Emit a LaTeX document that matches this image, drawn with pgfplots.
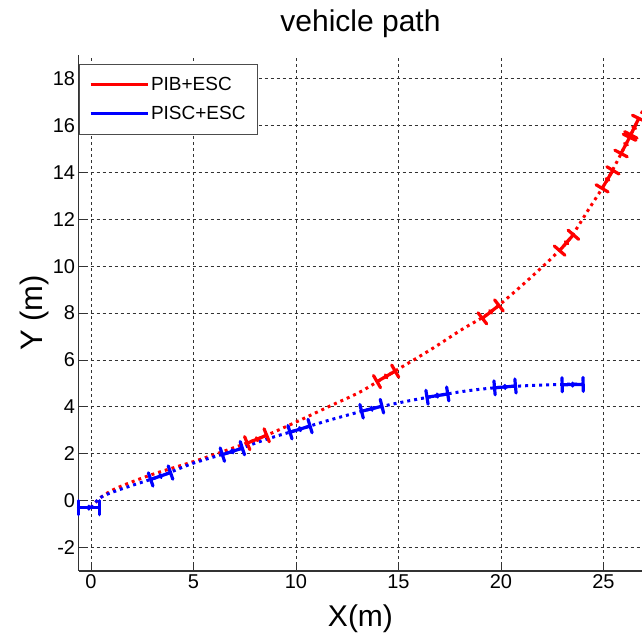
\documentclass[border=0pt]{standalone}
\usepackage{pgfplots}
\pgfplotsset{compat=1.18}
\usepackage{fontspec}
\setmainfont{Liberation Sans}

\pgfdeclareplotmark{car}{%
 \pgfsetlinewidth{3.2pt}%
 \pgfsetroundcap
 \pgfpathmoveto{\pgfqpoint{-10.5pt}{0pt}}\pgfpathlineto{\pgfqpoint{10.5pt}{0pt}}%
 \pgfpathmoveto{\pgfqpoint{-10.5pt}{-7pt}}\pgfpathlineto{\pgfqpoint{-10.5pt}{7pt}}%
 \pgfpathmoveto{\pgfqpoint{10.5pt}{-7pt}}\pgfpathlineto{\pgfqpoint{10.5pt}{7pt}}%
 \pgfusepathqstroke
 \pgfpathcircle{\pgfpointorigin}{0.9pt}\pgfusepathqstroke
}

\pgfplotstableread{
x y a
8.1 2.62 22
14.4 5.3 30
19.5 8.05 38
23.2 11.0 49
25.2 13.7 59
26.1 15.2 62
26.5 15.9 64
}\redcars

\pgfplotstableread{
x y a
-0.1 -0.3 0
3.4 1.05 19
6.9 2.1 18
10.2 3.05 17
13.7 3.92 14
16.9 4.48 9
20.2 4.85 5
23.5 4.95 1
}\bluecars

\begin{document}
\begin{tikzpicture}
\begin{axis}[
 at={(78.6pt,65pt)}, anchor=south west,
 scale only axis, width=563.75pt, height=515.9pt,
 xmin=-0.6, xmax=26.9, ymin=-3, ymax=19,
 axis x line*=bottom, axis y line*=left,
 axis line style={black!80, line width=1.2pt, -},
 xtick={0,5,...,25}, ytick={-2,0,...,18},
 tick align=inside, major tick length=6pt,
 tick style={black!80, line width=0.8pt},
 grid=major,
 major grid style={black!80, line width=0.8pt, dash pattern=on 3pt off 3pt},
 tick label style={font=\fontsize{20}{22}\selectfont},
 /pgf/number format/assume math mode=true,
 title={vehicle path},
 title style={font=\fontsize{30}{32}\selectfont, at={(axis description cs:0.5,1)}, anchor=base, yshift=18pt},
 xlabel={X(m)},
 xlabel style={font=\fontsize{30}{32}\selectfont, at={(axis description cs:0.5,0)}, anchor=base, yshift=-55.5pt},
 ylabel={Y (m)},
 ylabel style={font=\fontsize{31}{33}\selectfont, at={(axis description cs:-0.0525,0.5)}, anchor=south, inner sep=0pt},
 legend style={at={(axis description cs:0,1)}, anchor=north west, yshift=-9pt,
   draw=black!70, line width=0.8pt, font=\fontsize{19}{21}\selectfont,
   inner xsep=10pt, inner ysep=11pt, row sep=10pt},
 legend cell align=left,
 legend image code/.code={\draw[#1, solid, line width=3pt] (0pt,0pt) -- (57pt,0pt);},
]
\addplot[red, line width=3pt, dash pattern=on 3pt off 4pt, smooth] coordinates {
 (0,-0.3) (0.5,0.15) (1.3,0.55) (3,1.12) (5.3,1.75) (8.1,2.62) (10,3.35) (11.7,4.05)
 (13.1,4.62) (14.4,5.3) (16.5,6.4) (18.1,7.3) (19.5,8.05) (21.5,9.55) (23.2,11.0)
 (24.3,12.45) (25.2,13.7) (26.1,15.2) (26.5,15.9) (26.9,16.6) (27.2,17.2)
};
\addlegendentry{PIB+ESC}
\addplot[forget plot, scatter, only marks, mark=car,
  mark options={solid},
  scatter/use mapped color={draw=red, fill=red},
  visualization depends on={\thisrow{a}\as\ang},
  scatter/@pre marker code/.append style={/tikz/rotate=\ang}]
  table[x=x, y=y] {\redcars};
\addplot[blue, line width=3pt, dash pattern=on 3pt off 4pt, smooth] coordinates {
 (0,-0.3) (0.5,0.15) (1.5,0.5) (3.4,1.05) (5,1.6) (6.9,2.1) (8.5,2.6) (10.2,3.05)
 (11.7,3.45) (13.7,3.92) (15.3,4.22) (16.9,4.48) (18.5,4.7) (20.2,4.85) (22,4.93)
 (23.5,4.97) (24,4.97)
};
\addlegendentry{PISC+ESC}
\addplot[forget plot, scatter, only marks, mark=car,
  mark options={solid},
  scatter/use mapped color={draw=blue, fill=blue},
  visualization depends on={\thisrow{a}\as\ang},
  scatter/@pre marker code/.append style={/tikz/rotate=\ang}]
  table[x=x, y=y] {\bluecars};
\end{axis}
\pgfresetboundingbox
\path[use as bounding box] (0,0) rectangle (642pt,636pt);
\end{tikzpicture}
\end{document}
